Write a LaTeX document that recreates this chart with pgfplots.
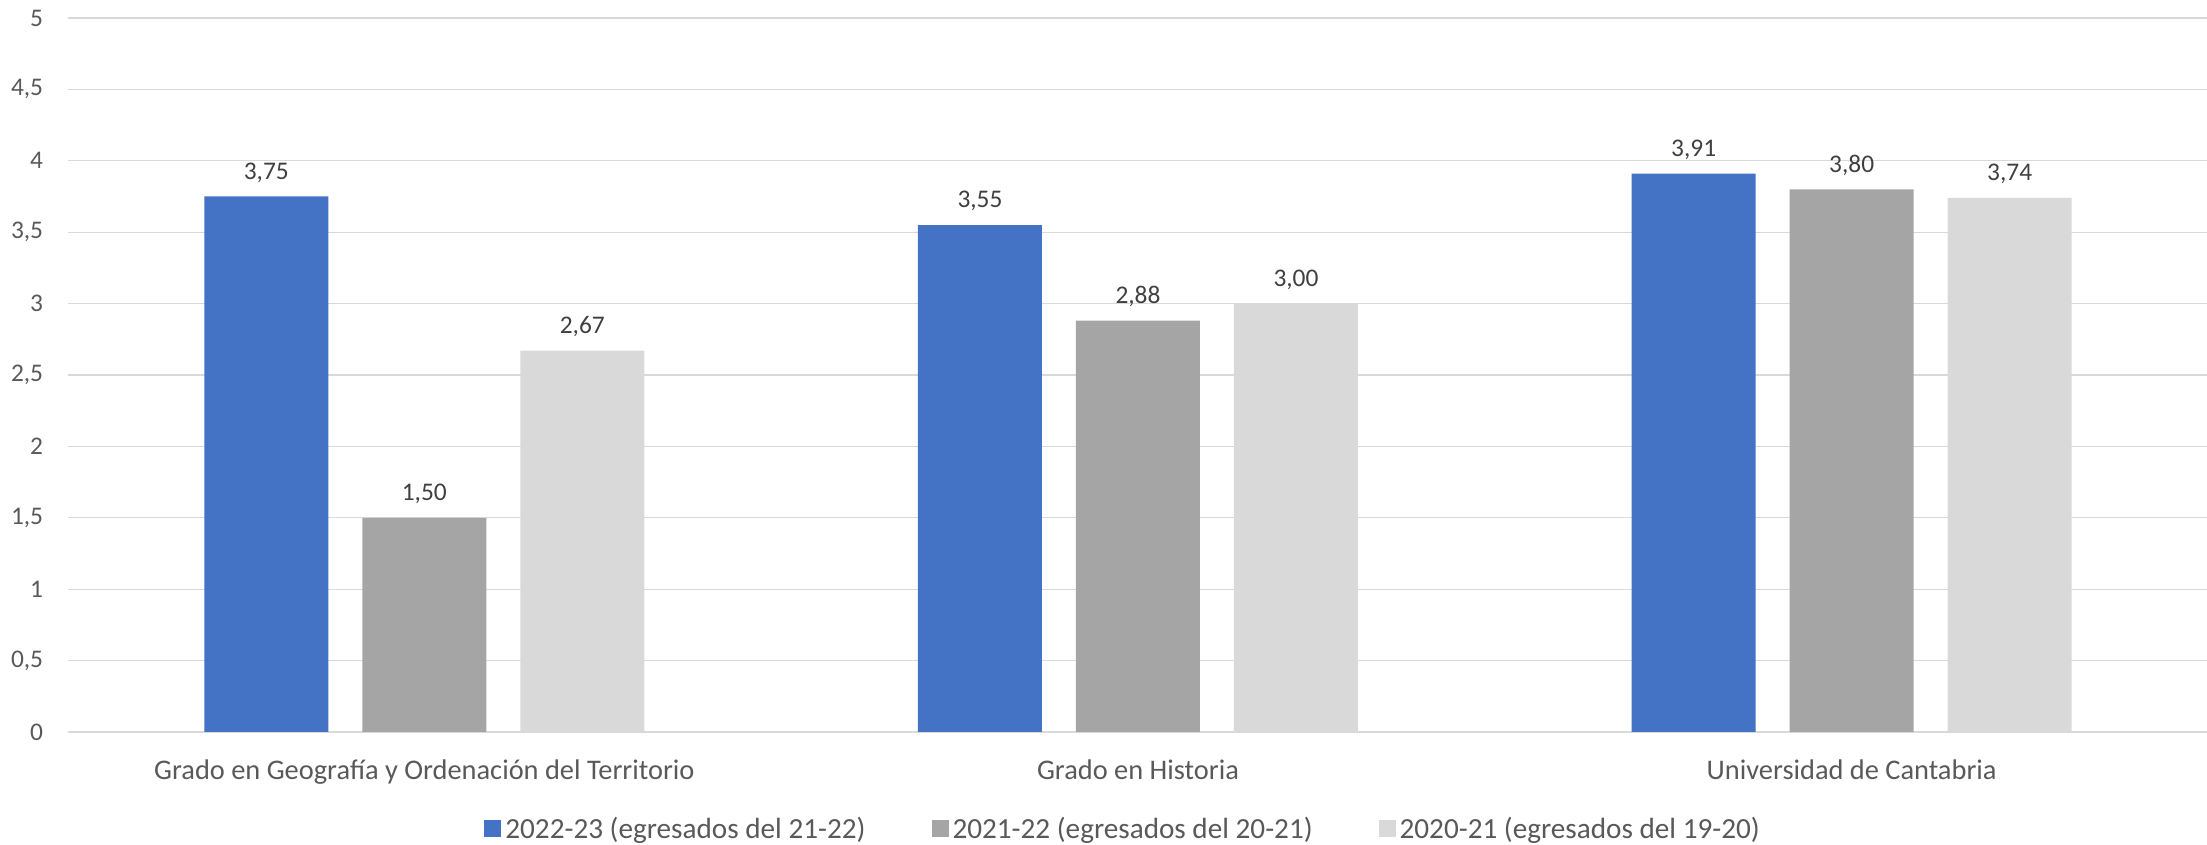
\documentclass[border=0pt]{standalone}
\usepackage{fontspec}
\setmainfont{Carlito}
\usepackage{pgfplots}
\pgfplotsset{compat=1.18}
\definecolor{cBlue}{HTML}{4472C4}
\definecolor{cGray}{HTML}{A5A5A5}
\definecolor{cLight}{HTML}{D9D9D9}
\definecolor{cGrid}{HTML}{D9D9D9}
\definecolor{cText}{HTML}{595959}
\definecolor{cLabel}{HTML}{404040}
\newcommand{\cfont}{\fontsize{12.7}{15}\selectfont}
\newcommand{\xfont}{\fontsize{14.2}{17}\selectfont}
\newcommand{\lfont}{\fontsize{14.6}{17}\selectfont}
\begin{document}
\begin{tikzpicture}
\begin{axis}[
  scale only axis, width=1070.5pt, height=357pt,
  xmin=-0.5, xmax=2.5, ymin=0, ymax=5,
  ytick={0,0.5,1,1.5,2,2.5,3,3.5,4,4.5,5},
  xtick={0,1,2},
  xticklabels={Grado en Geografía y Ordenación del Territorio, Grado en Historia, Universidad de Cantabria},
  major tick length=0pt,
  axis line style={draw=none},
  ymajorgrids, grid style={cGrid, line width=0.65pt},
  tick label style={font=\cfont, text=cText},
  yticklabel style={/pgf/number format/use comma, /pgf/number format/assume math mode=true, anchor=east, inner sep=0pt, xshift=-12pt},
  xticklabel style={font=\xfont, anchor=base, inner sep=0pt, yshift=-24pt},
  ybar=17pt, bar width=62pt,
  nodes near coords={\pgfmathprintnumber[fixed,fixed zerofill,precision=2,use comma,assume math mode=true]{\pgfplotspointmeta}},
  every node near coord/.append style={font=\cfont, text=cLabel, anchor=base, yshift=8.6pt, inner sep=0pt},
  legend columns=3,
  legend style={at={(0.4935,0)}, anchor=center, yshift=-48.5pt, draw=none, fill=none, font=\lfont, text=cText,
    /tikz/every even column/.append style={column sep=31pt}},
  legend image code/.code={\fill[#1] (0pt,-4.25pt) rectangle (8.5pt,4.25pt);},
]
\addplot[fill=cBlue, draw=none] coordinates {(0,3.75) (1,3.55) (2,3.91)};
\addplot[fill=cGray, draw=none] coordinates {(0,1.50) (1,2.88) (2,3.80)};
\addplot[fill=cLight, draw=none] coordinates {(0,2.67) (1,3.00) (2,3.74)};
\legend{2022-23 (egresados del 21-22), 2021-22 (egresados del 20-21), 2020-21 (egresados del 19-20)}
\end{axis}
\pgfresetboundingbox
\path[use as bounding box] (-33.75pt,-56.5pt) rectangle (1069.75pt,366pt);
\end{tikzpicture}
\end{document}
